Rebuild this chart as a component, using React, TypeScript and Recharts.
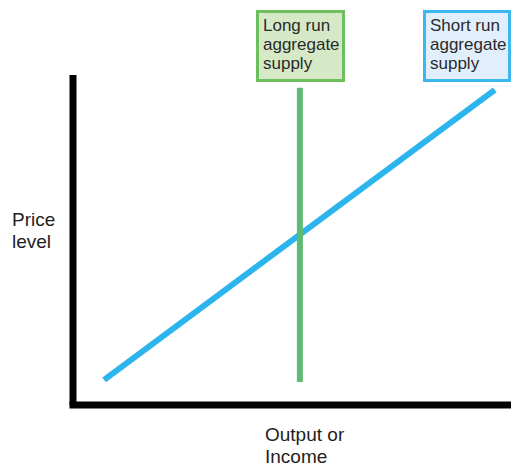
import { LineChart, Line, XAxis, YAxis } from 'recharts';

// Short run aggregate supply: upward sloping line (x = output, y = price level)
const srasOutput = [7.1, 96.3];
const srasPrice = [7.6, 95.5];

// Long run aggregate supply: vertical at potential output
const lrasOutput = [51.8, 51.8];
const lrasPrice = [7.0, 96.1];

const axisDomain = [0, 100];

const srasData = srasOutput.map((x, i) => ({ x, y: srasPrice[i] }));
const lrasData = lrasOutput.map((x, i) => ({ x, y: lrasPrice[i] }));

const FONT = '"Liberation Sans", Arial, Helvetica, sans-serif';

const boxStyle = (border: string, fill: string): React.CSSProperties => ({
  position: 'absolute',
  top: 10,
  height: 72,
  boxSizing: 'border-box',
  border: `3px solid ${border}`,
  background: fill,
  padding: '3px 0 0 4px',
  fontSize: 17,
  lineHeight: '19px',
  color: '#2a2a2a',
  fontFamily: FONT,
});

const axisLabelStyle: React.CSSProperties = {
  position: 'absolute',
  fontSize: 19,
  lineHeight: '22px',
  color: '#1e1e1e',
  fontFamily: FONT,
};

export default function App() {
  return (
    <div style={{ position: 'absolute', left: 0, top: 0, width: 511, height: 468, background: '#fff' }}>
      <LineChart width={511} height={468} margin={{ top: 75, right: 0, left: 72, bottom: 62 }}>
        <XAxis
          type="number"
          dataKey="x"
          domain={axisDomain}
          height={1}
          tick={false}
          tickLine={false}
          axisLine={{ stroke: '#000', strokeWidth: 7, strokeLinecap: 'square' }}
        />
        <YAxis
          type="number"
          dataKey="y"
          domain={axisDomain}
          width={1}
          tick={false}
          tickLine={false}
          axisLine={{ stroke: '#000', strokeWidth: 7 }}
        />
        <Line
          data={srasData}
          dataKey="y"
          type="linear"
          stroke="#2bb5ec"
          strokeWidth={6}
          dot={false}
          isAnimationActive={false}
        />
        <Line
          data={lrasData}
          dataKey="y"
          type="linear"
          stroke="#5dbb72"
          strokeWidth={6}
          dot={false}
          isAnimationActive={false}
        />
      </LineChart>

      <div style={{ ...boxStyle('#6cbf5c', '#d6e9c6'), left: 256, width: 89 }}>
        Long run<br />aggregate<br />supply
      </div>
      <div style={{ ...boxStyle('#3bb8f0', '#e1effc'), left: 423, width: 88 }}>
        Short run<br />aggregate<br />supply
      </div>

      <div style={{ ...axisLabelStyle, left: 12, top: 209 }}>
        Price<br />level
      </div>
      <div style={{ ...axisLabelStyle, left: 265, top: 424 }}>
        Output or<br />Income
      </div>
    </div>
  );
}
